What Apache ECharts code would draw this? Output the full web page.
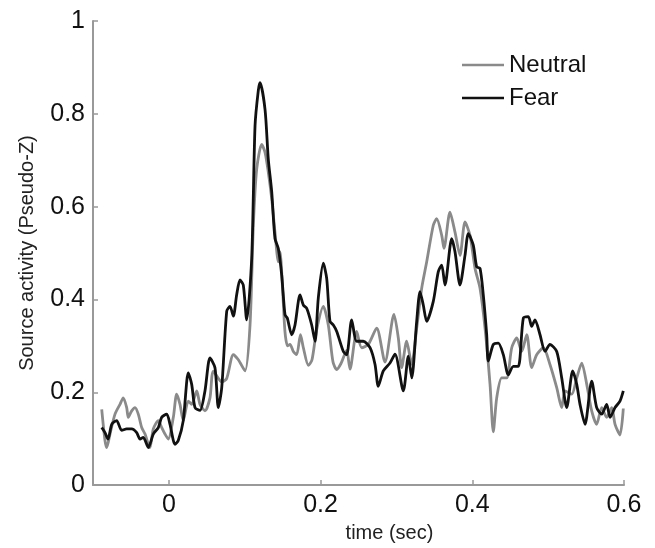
<!DOCTYPE html>
<html>
<head>
<meta charset="utf-8">
<script src="https://cdn.jsdelivr.net/npm/echarts@6/dist/echarts.min.js"></script>
<style>
html,body{margin:0;padding:0;background:#fff;}
#chart{width:655px;height:548px;}
</style>
</head>
<body>
<div id="chart"></div>
<script>
// Neutral (gray) trace: time (s) and source activity
var neutralTime = [-0.0885,-0.0842,-0.0819,-0.0776,-0.0710,-0.0644,-0.0601,-0.0556,-0.0535,-0.0490,-0.0446,-0.0403,-0.0358,-0.0314,-0.0271,-0.0249,-0.0205,-0.0139,-0.0094,-0.0051,-0.0007,0.0059,0.0103,0.0147,0.0190,0.0256,0.0301,0.0367,0.0411,0.0476,0.0542,0.0586,0.0701,0.0763,0.0850,0.0916,0.1004,0.1070,0.1114,0.1158,0.1224,0.1268,0.1311,0.1356,0.1399,0.1443,0.1465,0.1501,0.1531,0.1564,0.1597,0.1641,0.1685,0.1735,0.1773,0.1839,0.1887,0.1949,0.2036,0.2102,0.2164,0.2213,0.2269,0.2344,0.2388,0.2476,0.2542,0.2629,0.2740,0.2849,0.2968,0.3025,0.3069,0.3135,0.3201,0.3267,0.3333,0.3399,0.3486,0.3531,0.3597,0.3627,0.3706,0.3772,0.3838,0.3904,0.3970,0.4036,0.4102,0.4168,0.4234,0.4277,0.4322,0.4388,0.4454,0.4520,0.4586,0.4652,0.4718,0.4783,0.4849,0.4937,0.5024,0.5113,0.5179,0.5223,0.5311,0.5377,0.5443,0.5509,0.5574,0.5640,0.5706,0.5772,0.5838,0.5882,0.5947,0.5991];
var neutralValues = [0.163,0.096,0.081,0.110,0.153,0.174,0.188,0.167,0.146,0.160,0.167,0.153,0.124,0.110,0.088,0.081,0.121,0.139,0.124,0.110,0.099,0.146,0.196,0.174,0.139,0.181,0.174,0.203,0.174,0.160,0.188,0.245,0.222,0.230,0.281,0.270,0.246,0.345,0.560,0.681,0.734,0.717,0.674,0.617,0.545,0.481,0.503,0.417,0.330,0.300,0.303,0.288,0.281,0.324,0.296,0.258,0.270,0.335,0.385,0.345,0.265,0.249,0.262,0.290,0.250,0.331,0.296,0.303,0.338,0.265,0.368,0.317,0.253,0.310,0.260,0.338,0.424,0.481,0.560,0.574,0.538,0.510,0.588,0.545,0.495,0.567,0.538,0.467,0.424,0.338,0.217,0.115,0.188,0.231,0.231,0.296,0.317,0.288,0.324,0.253,0.281,0.296,0.260,0.210,0.167,0.203,0.196,0.231,0.263,0.217,0.160,0.131,0.167,0.146,0.167,0.131,0.108,0.165];

// Fear (black) trace
var fearTime = [-0.0885,-0.0842,-0.0802,-0.0753,-0.0688,-0.0622,-0.0556,-0.0490,-0.0424,-0.0380,-0.0337,-0.0271,-0.0205,-0.0139,-0.0094,-0.0028,0.0015,0.0081,0.0124,0.0190,0.0256,0.0301,0.0345,0.0411,0.0476,0.0542,0.0608,0.0652,0.0697,0.0763,0.0806,0.0850,0.0894,0.0938,0.0981,0.1026,0.1092,0.1136,0.1179,0.1202,0.1268,0.1311,0.1356,0.1399,0.1443,0.1488,0.1531,0.1561,0.1619,0.1663,0.1729,0.1773,0.1817,0.1883,0.1927,0.1970,0.2036,0.2081,0.2124,0.2168,0.2213,0.2300,0.2344,0.2410,0.2476,0.2563,0.2652,0.2718,0.2761,0.2827,0.2915,0.2981,0.3091,0.3157,0.3202,0.3267,0.3311,0.3354,0.3399,0.3486,0.3552,0.3597,0.3640,0.3729,0.3772,0.3838,0.3904,0.3948,0.4013,0.4058,0.4102,0.4145,0.4190,0.4211,0.4277,0.4343,0.4409,0.4475,0.4541,0.4607,0.4673,0.4739,0.4783,0.4827,0.4893,0.4959,0.5024,0.5113,0.5179,0.5245,0.5324,0.5377,0.5420,0.5486,0.5574,0.5640,0.5706,0.5772,0.5816,0.5882,0.5947,0.5991];
var fearValues = [0.124,0.113,0.099,0.131,0.139,0.118,0.121,0.121,0.113,0.099,0.103,0.081,0.110,0.124,0.146,0.153,0.131,0.088,0.096,0.139,0.242,0.217,0.167,0.161,0.203,0.274,0.253,0.167,0.210,0.375,0.385,0.364,0.410,0.442,0.431,0.356,0.488,0.774,0.850,0.867,0.809,0.702,0.632,0.531,0.510,0.452,0.367,0.360,0.324,0.345,0.410,0.388,0.381,0.345,0.310,0.403,0.478,0.445,0.353,0.345,0.331,0.288,0.281,0.356,0.310,0.310,0.296,0.260,0.213,0.246,0.263,0.282,0.203,0.278,0.231,0.353,0.417,0.388,0.353,0.396,0.460,0.474,0.431,0.531,0.503,0.431,0.495,0.542,0.517,0.470,0.467,0.410,0.324,0.267,0.303,0.306,0.281,0.238,0.256,0.256,0.360,0.363,0.342,0.356,0.324,0.288,0.303,0.288,0.231,0.167,0.246,0.217,0.174,0.131,0.224,0.167,0.153,0.174,0.146,0.167,0.181,0.203];

var xTicks = [0, 0.2, 0.4, 0.6];
var yTicks = [0, 0.2, 0.4, 0.6, 0.8, 1];

function pairs(t, v) {
  var out = [];
  for (var i = 0; i < t.length; i++) out.push([t[i], v[i]]);
  return out;
}

var chart = echarts.init(document.getElementById('chart'), null, {renderer: 'canvas'});
var fontFam = '"Liberation Sans", Arial, sans-serif';
chart.setOption({
  animation: false,
  backgroundColor: '#ffffff',
  grid: {left: 93, right: 31, top: 21, bottom: 60, containLabel: false},
  legend: {
    orient: 'vertical',
    left: 457,
    top: 48,
    itemWidth: 42,
    itemHeight: 24,
    itemGap: 9,
    icon: 'path://M0,11 L42,11 L42,13.5 L0,13.5 Z',
    textStyle: {fontFamily: fontFam, fontSize: 24, color: '#111'},
    data: [
      {name: 'Neutral', itemStyle: {color: '#8a8a8a'}},
      {name: 'Fear', itemStyle: {color: '#111111'}}
    ]
  },
  xAxis: {
    type: 'value',
    min: -0.1,
    max: 0.6,
    name: 'time (sec)',
    nameLocation: 'middle',
    nameGap: 30,
    nameTextStyle: {fontFamily: fontFam, fontSize: 20, color: '#222', padding: [0, 0, 0, 62]},
    axisLine: {show: true, onZero: false, lineStyle: {color: '#999', width: 2}},
    axisTick: {show: true, inside: true, length: 5, customValues: xTicks, lineStyle: {color: '#999', width: 1.5}},
    axisLabel: {show: true, margin: 8, customValues: xTicks, fontFamily: fontFam, fontSize: 25, color: '#111',
      formatter: function (v) { return String(Math.round(v * 10) / 10); }},
    splitLine: {show: false}
  },
  yAxis: {
    type: 'value',
    min: 0,
    max: 1,
    interval: 0.2,
    name: 'Source activity (Pseudo-Z)',
    nameLocation: 'middle',
    nameGap: 56,
    nameTextStyle: {fontFamily: fontFam, fontSize: 20, color: '#222'},
    axisLine: {show: true, onZero: false, lineStyle: {color: '#999', width: 2}},
    axisTick: {show: true, inside: true, length: 5, lineStyle: {color: '#999', width: 1.5}},
    axisLabel: {show: true, margin: 8, fontFamily: fontFam, fontSize: 25, color: '#111',
      customValues: yTicks,
      formatter: function (v) { return String(Math.round(v * 10) / 10); }},
    splitLine: {show: false}
  },
  series: [
    {
      name: 'Neutral',
      type: 'line',
      data: pairs(neutralTime, neutralValues),
      showSymbol: false,
      symbol: 'none',
      smooth: 0.25,
      lineStyle: {color: '#8a8a8a', width: 2.8},
      itemStyle: {color: '#8a8a8a'},
      z: 2
    },
    {
      name: 'Fear',
      type: 'line',
      data: pairs(fearTime, fearValues),
      showSymbol: false,
      symbol: 'none',
      smooth: 0.25,
      lineStyle: {color: '#111111', width: 2.8},
      itemStyle: {color: '#111111'},
      z: 3
    }
  ]
});
</script>
</body>
</html>
